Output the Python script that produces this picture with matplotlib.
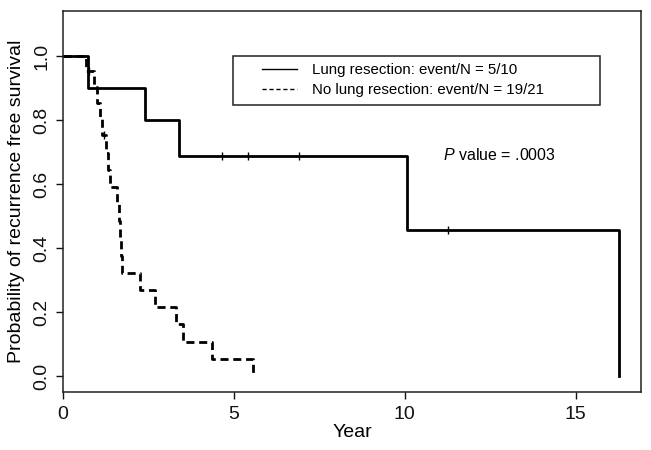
import numpy as np
import matplotlib
matplotlib.use('Agg')
import matplotlib.pyplot as plt
from matplotlib.patches import Rectangle

plt.rcParams['font.family'] = ['Liberation Sans', 'DejaVu Sans']
plt.rcParams['mathtext.fontset'] = 'custom'
plt.rcParams['mathtext.it'] = 'Liberation Sans:italic'
plt.rcParams['mathtext.rm'] = 'Liberation Sans'

# Kaplan-Meier steps
lung_time = [0, 0.75, 2.41, 3.40, 10.06, 16.25]
lung_surv = [1.0, 0.9, 0.8, 0.686, 0.457, 0.0]
lung_cens_time = [4.65, 5.41, 6.91, 11.27]
lung_cens_surv = [0.686, 0.686, 0.686, 0.457]

nolung_time = [0, 0.67, 0.92, 1.00, 1.08, 1.15, 1.28, 1.33, 1.38, 1.60,
               1.64, 1.67, 1.70, 1.73, 2.26, 2.70, 3.30, 3.53, 4.36, 5.56]
nolung_surv = [1.0, 0.952, 0.902, 0.852, 0.802, 0.752, 0.698, 0.645, 0.591, 0.537,
               0.483, 0.430, 0.376, 0.322, 0.269, 0.215, 0.161, 0.107, 0.054, 0.0]
nolung_cens_time = [0.78, 1.22]
nolung_cens_surv = [0.952, 0.752]

labels = ['Lung resection: event/N = 5/10', 'No lung resection: event/N = 19/21']
xticks = [0, 5, 10, 15]
yticks = [0.0, 0.2, 0.4, 0.6, 0.8, 1.0]

fig = plt.figure(figsize=(6.51, 4.5), dpi=100)
ax = fig.add_axes([0.0963, 0.1296, 0.8891, 0.8460])

ax.step(lung_time, lung_surv, where='post', color='black', lw=2.0, label=labels[0])
ax.step(nolung_time, nolung_surv, where='post', color='black', lw=2.0,
        dashes=(2.9, 1.7), label=labels[1])
ax.plot(lung_cens_time, lung_cens_surv, ls='none', marker='|', ms=6, mew=1.0, color='black')
ax.plot(nolung_cens_time, nolung_cens_surv, ls='none', marker='|', ms=6, mew=1.0, color='black')

ax.set_xlim(0, 16.92)
ax.set_ylim(-0.049, 1.1406)
ax.set_xticks(xticks)
ax.set_yticks(yticks)
ax.set_yticklabels(['%.1f' % v for v in yticks], rotation=90, va='center')
ax.tick_params(direction='out', length=5, width=1, labelsize=14, colors='#111111')
ax.tick_params(axis='x', pad=5)
ax.tick_params(axis='y', pad=4)
for s in ax.spines.values():
    s.set_linewidth(1.1)
    s.set_color('#222222')

ax.set_xlabel('Year', fontsize=14, labelpad=1)
ax.set_ylabel('Probability of recurrence free survival', fontsize=14, labelpad=6)

# legend: thin handles and a plain square box
h1, = ax.plot([], [], color='black', lw=1.0)
h2, = ax.plot([], [], color='black', lw=1.0, dashes=(3, 2))
ax.legend([h1, h2], labels, loc='center left', bbox_to_anchor=(0.3438, 0.8188),
          frameon=False, fontsize=10.8, handlelength=2.33, handletextpad=1.0,
          borderpad=0, borderaxespad=0, labelspacing=0.38)
ax.add_patch(Rectangle((0.2937, 0.7531), 0.6346, 0.1287, transform=ax.transAxes,
                       fill=False, lw=1.1, edgecolor='#222222'))

ax.text(11.13, 0.69, r'$\it{P}$ value = .0003', fontsize=11.5, va='center', ha='left')

fig.savefig('out.png', dpi=100)
